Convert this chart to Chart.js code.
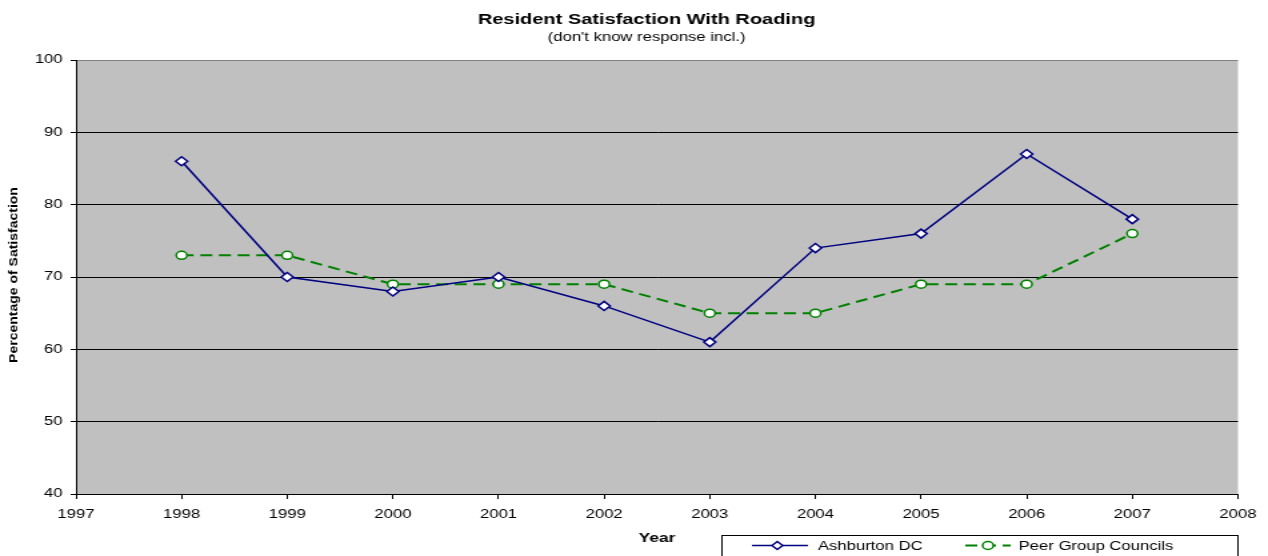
<!DOCTYPE html>
<html>
<head>
<meta charset="utf-8">
<script src="https://cdn.jsdelivr.net/npm/chart.js@4/dist/chart.umd.min.js"></script>
<style>
  html, body { margin: 0; padding: 0; background: #fff; overflow: hidden; }
  /* the original picture is stretched sideways, so draw narrow and scale up */
  #wrap { width: 951px; height: 556px; transform: scaleX(1.333333); transform-origin: 0 0; }
</style>
</head>
<body>
<div id="wrap"><canvas id="chart" width="951" height="556"></canvas></div>
<script>
// Data
const years = [1998, 1999, 2000, 2001, 2002, 2003, 2004, 2005, 2006, 2007];
const ashburton = [86, 70, 68, 70, 66, 61, 74, 76, 87, 78];
const peerGroup = [73, 73, 69, 69, 69, 65, 65, 69, 69, 76];
const seriesNames = ['Ashburton DC', 'Peer Group Councils'];

const FONT = "'Liberation Sans', Arial, sans-serif";
const NAVY = '#000080';
const GREEN = '#008000';

function toPoints(values) {
  return years.map((y, i) => ({ x: y, y: values[i] }));
}

// Gray plot background
const plotBackground = {
  id: 'plotBackground',
  beforeDraw(chart) {
    const { ctx, chartArea: a } = chart;
    ctx.save();
    ctx.fillStyle = '#c0c0c0';
    ctx.fillRect(a.left, a.top, a.right - a.left, a.bottom - a.top);
    ctx.restore();
  }
};

// Titles, y axis title and the boxed legend at the bottom
const annotations = {
  id: 'annotations',
  afterDraw(chart) {
    const { ctx } = chart;
    ctx.save();
    ctx.fillStyle = '#000';
    ctx.textAlign = 'center';
    ctx.textBaseline = 'alphabetic';
    ctx.font = 'bold 15px ' + FONT;
    ctx.fillText('Resident Satisfaction With Roading', 485, 24);
    ctx.font = '12.5px ' + FONT;
    ctx.fillText("(don't know response incl.)", 485, 41);

    // y axis title, squeezed across its thickness
    ctx.save();
    ctx.translate(10.5, 275);
    ctx.rotate(-Math.PI / 2);
    ctx.scale(1, 0.7);
    ctx.font = 'bold 14px ' + FONT;
    ctx.textBaseline = 'middle';
    ctx.fillText('Percentage of Satisfaction', 0, 0);
    ctx.restore();

    // legend box
    ctx.strokeStyle = '#000';
    ctx.lineWidth = 1;
    ctx.strokeRect(541.5, 535.5, 387, 30);
    ctx.font = '12.5px ' + FONT;
    ctx.textAlign = 'left';
    ctx.textBaseline = 'middle';

    ctx.strokeStyle = NAVY;
    ctx.lineWidth = 1.5;
    ctx.beginPath();
    ctx.moveTo(564, 545.5);
    ctx.lineTo(606, 545.5);
    ctx.stroke();
    ctx.beginPath();
    ctx.moveTo(583, 541.5);
    ctx.lineTo(587, 545.5);
    ctx.lineTo(583, 549.5);
    ctx.lineTo(579, 545.5);
    ctx.closePath();
    ctx.fillStyle = '#fff';
    ctx.fill();
    ctx.stroke();
    ctx.fillStyle = '#000';
    ctx.fillText(seriesNames[0], 613.5, 547);

    ctx.strokeStyle = GREEN;
    ctx.lineWidth = 2;
    ctx.setLineDash([9, 5]);
    ctx.beginPath();
    ctx.moveTo(724, 545.5);
    ctx.lineTo(758, 545.5);
    ctx.stroke();
    ctx.setLineDash([]);
    ctx.lineWidth = 1.5;
    ctx.beginPath();
    ctx.arc(741, 545.5, 4, 0, Math.PI * 2);
    ctx.fillStyle = '#fff';
    ctx.fill();
    ctx.stroke();
    ctx.fillStyle = '#000';
    ctx.fillText(seriesNames[1], 764, 547);
    ctx.restore();
  }
};

new Chart(document.getElementById('chart'), {
  type: 'line',
  data: {
    datasets: [
      {
        label: seriesNames[0],
        data: toPoints(ashburton),
        borderColor: NAVY,
        borderWidth: 1.5,
        pointStyle: 'rectRot',
        pointRadius: 4.5,
        pointBackgroundColor: '#fff',
        pointBorderColor: NAVY,
        pointBorderWidth: 1.5,
        tension: 0
      },
      {
        label: seriesNames[1],
        data: toPoints(peerGroup),
        borderColor: GREEN,
        borderWidth: 2,
        borderDash: [9, 5],
        pointStyle: 'circle',
        pointRadius: 4,
        pointBackgroundColor: '#fff',
        pointBorderColor: GREEN,
        pointBorderWidth: 1.5,
        tension: 0
      }
    ]
  },
  options: {
    responsive: false,
    animation: false,
    layout: { padding: { top: 60, right: 22.5, bottom: 0, left: 0 } },
    plugins: {
      legend: { display: false },
      title: { display: false },
      tooltip: { enabled: false }
    },
    scales: {
      x: {
        type: 'linear',
        min: 1997,
        max: 2008,
        afterFit: s => { s.height = 62; },
        ticks: {
          stepSize: 1,
          color: '#000',
          font: { family: FONT, size: 12.5 },
          padding: 8,
          maxRotation: 0,
          callback: v => String(v)
        },
        grid: { drawOnChartArea: false, tickLength: 5, tickColor: '#000' },
        border: { color: '#000', width: 1 },
        title: {
          display: true,
          text: 'Year',
          color: '#000',
          font: { family: FONT, size: 13, weight: 'bold' },
          padding: { top: 0, bottom: 10 }
        }
      },
      y: {
        min: 40,
        max: 100,
        afterFit: s => { s.width = 57; },
        ticks: {
          stepSize: 10,
          color: '#000',
          font: { family: FONT, size: 12.5 },
          padding: 6
        },
        grid: {
          color: c => (c.tick && c.tick.value === 100 ? '#808080' : '#000'),
          lineWidth: 1,
          tickLength: 4,
          tickColor: '#000'
        },
        border: { color: '#000', width: 1 }
      }
    }
  },
  plugins: [plotBackground, annotations]
});
</script>
</body>
</html>
